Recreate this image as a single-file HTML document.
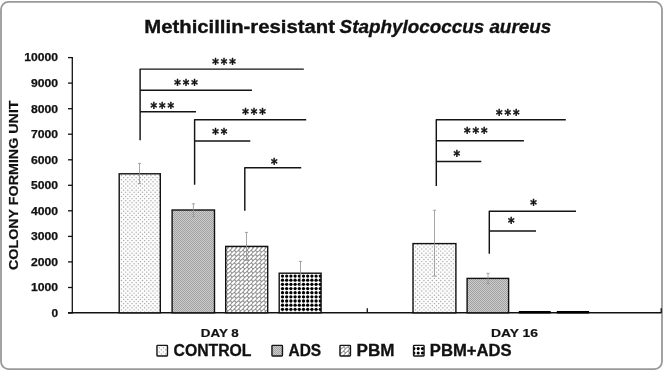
<!DOCTYPE html>
<html lang="en"><head><meta charset="utf-8"><title>Methicillin-resistant Staphylococcus aureus</title>
<style>
html,body{margin:0;padding:0;background:#fff;}
body{width:663px;height:370px;overflow:hidden;}
svg{display:block;filter:blur(0.35px);}
text{font-family:"Liberation Sans",sans-serif;font-weight:bold;fill:#111;}
.ast{font-family:"DejaVu Sans","Liberation Sans",sans-serif;font-weight:bold;fill:#111;}
</style></head><body>
<svg width="663" height="370" viewBox="0 0 663 370">

<defs>
<pattern id="p1" x="123" y="177" width="21" height="21" patternUnits="userSpaceOnUse">
<rect width="21" height="21" fill="#fcfcfc"/>
<g fill="#acacac"><circle cx="0.6" cy="0.6" r="0.72"/><circle cx="2.7" cy="2.7" r="0.72"/><circle cx="0.6" cy="4.8" r="0.72"/><circle cx="2.7" cy="6.9" r="0.72"/><circle cx="0.6" cy="9.0" r="0.72"/><circle cx="2.7" cy="11.1" r="0.72"/><circle cx="0.6" cy="13.2" r="0.72"/><circle cx="2.7" cy="15.3" r="0.72"/><circle cx="0.6" cy="17.4" r="0.72"/><circle cx="2.7" cy="19.5" r="0.72"/><circle cx="4.8" cy="0.6" r="0.72"/><circle cx="6.9" cy="2.7" r="0.72"/><circle cx="4.8" cy="4.8" r="0.72"/><circle cx="6.9" cy="6.9" r="0.72"/><circle cx="4.8" cy="9.0" r="0.72"/><circle cx="6.9" cy="11.1" r="0.72"/><circle cx="4.8" cy="13.2" r="0.72"/><circle cx="6.9" cy="15.3" r="0.72"/><circle cx="4.8" cy="17.4" r="0.72"/><circle cx="6.9" cy="19.5" r="0.72"/><circle cx="9.0" cy="0.6" r="0.72"/><circle cx="11.1" cy="2.7" r="0.72"/><circle cx="9.0" cy="4.8" r="0.72"/><circle cx="11.1" cy="6.9" r="0.72"/><circle cx="9.0" cy="9.0" r="0.72"/><circle cx="11.1" cy="11.1" r="0.72"/><circle cx="9.0" cy="13.2" r="0.72"/><circle cx="11.1" cy="15.3" r="0.72"/><circle cx="9.0" cy="17.4" r="0.72"/><circle cx="11.1" cy="19.5" r="0.72"/><circle cx="13.2" cy="0.6" r="0.72"/><circle cx="15.3" cy="2.7" r="0.72"/><circle cx="13.2" cy="4.8" r="0.72"/><circle cx="15.3" cy="6.9" r="0.72"/><circle cx="13.2" cy="9.0" r="0.72"/><circle cx="15.3" cy="11.1" r="0.72"/><circle cx="13.2" cy="13.2" r="0.72"/><circle cx="15.3" cy="15.3" r="0.72"/><circle cx="13.2" cy="17.4" r="0.72"/><circle cx="15.3" cy="19.5" r="0.72"/><circle cx="17.4" cy="0.6" r="0.72"/><circle cx="19.5" cy="2.7" r="0.72"/><circle cx="17.4" cy="4.8" r="0.72"/><circle cx="19.5" cy="6.9" r="0.72"/><circle cx="17.4" cy="9.0" r="0.72"/><circle cx="19.5" cy="11.1" r="0.72"/><circle cx="17.4" cy="13.2" r="0.72"/><circle cx="19.5" cy="15.3" r="0.72"/><circle cx="17.4" cy="17.4" r="0.72"/><circle cx="19.5" cy="19.5" r="0.72"/></g>
</pattern>
<pattern id="p2" width="2" height="2" patternUnits="userSpaceOnUse">
<rect width="2" height="2" fill="#cccccc"/>
<rect x="0" y="0" width="1" height="1" fill="#a2a2a2"/><rect x="1" y="1" width="1" height="1" fill="#a2a2a2"/>
</pattern>
<pattern id="p3" x="227" y="247" width="21" height="21" patternUnits="userSpaceOnUse">
<rect width="21" height="21" fill="#909090"/>
<path d="M1.05,3.15 l2.1,-2.1 M1.05,7.35 l2.1,-2.1 M1.05,11.55 l2.1,-2.1 M1.05,15.75 l2.1,-2.1 M1.05,19.95 l2.1,-2.1 M5.25,3.15 l2.1,-2.1 M5.25,7.35 l2.1,-2.1 M5.25,11.55 l2.1,-2.1 M5.25,15.75 l2.1,-2.1 M5.25,19.95 l2.1,-2.1 M9.45,3.15 l2.1,-2.1 M9.45,7.35 l2.1,-2.1 M9.45,11.55 l2.1,-2.1 M9.45,15.75 l2.1,-2.1 M9.45,19.95 l2.1,-2.1 M13.65,3.15 l2.1,-2.1 M13.65,7.35 l2.1,-2.1 M13.65,11.55 l2.1,-2.1 M13.65,15.75 l2.1,-2.1 M13.65,19.95 l2.1,-2.1 M17.85,3.15 l2.1,-2.1 M17.85,7.35 l2.1,-2.1 M17.85,11.55 l2.1,-2.1 M17.85,15.75 l2.1,-2.1 M17.85,19.95 l2.1,-2.1" stroke="#fff" stroke-width="2.1" stroke-linecap="round"/>
</pattern>
</defs>

<rect x="0" y="0" width="663" height="370" fill="#fff"/>
<rect x="1" y="1.9" width="661" height="367.2" rx="7.5" ry="7.5" fill="none" stroke="#999" stroke-width="1.8"/>

<text x="144.3" y="33" font-size="18.8" textLength="190.6" lengthAdjust="spacingAndGlyphs" stroke="#111" stroke-width="0.35">Methicillin-resistant</text>
<text x="339.6" y="33" font-size="18.8" font-style="italic" textLength="211.6" lengthAdjust="spacingAndGlyphs" stroke="#111" stroke-width="0.35">Staphylococcus aureus</text>
<text transform="translate(18.0,270) rotate(-90)" font-size="13.2" textLength="169.6" lengthAdjust="spacingAndGlyphs" stroke="#111" stroke-width="0.2">COLONY FORMING UNIT</text>
<text x="51.4" y="316.85" font-size="10.9" textLength="6.6" lengthAdjust="spacingAndGlyphs" stroke="#111" stroke-width="0.25">0</text>
<text x="30.9" y="291.31" font-size="10.9" textLength="27.1" lengthAdjust="spacingAndGlyphs" stroke="#111" stroke-width="0.25">1000</text>
<text x="30.9" y="265.77" font-size="10.9" textLength="27.1" lengthAdjust="spacingAndGlyphs" stroke="#111" stroke-width="0.25">2000</text>
<text x="30.9" y="240.23" font-size="10.9" textLength="27.1" lengthAdjust="spacingAndGlyphs" stroke="#111" stroke-width="0.25">3000</text>
<text x="30.9" y="214.69" font-size="10.9" textLength="27.1" lengthAdjust="spacingAndGlyphs" stroke="#111" stroke-width="0.25">4000</text>
<text x="30.9" y="189.15" font-size="10.9" textLength="27.1" lengthAdjust="spacingAndGlyphs" stroke="#111" stroke-width="0.25">5000</text>
<text x="30.9" y="163.61" font-size="10.9" textLength="27.1" lengthAdjust="spacingAndGlyphs" stroke="#111" stroke-width="0.25">6000</text>
<text x="30.9" y="138.07" font-size="10.9" textLength="27.1" lengthAdjust="spacingAndGlyphs" stroke="#111" stroke-width="0.25">7000</text>
<text x="30.9" y="112.53" font-size="10.9" textLength="27.1" lengthAdjust="spacingAndGlyphs" stroke="#111" stroke-width="0.25">8000</text>
<text x="30.9" y="86.99" font-size="10.9" textLength="27.1" lengthAdjust="spacingAndGlyphs" stroke="#111" stroke-width="0.25">9000</text>
<text x="24.3" y="61.45" font-size="10.9" textLength="33.7" lengthAdjust="spacingAndGlyphs" stroke="#111" stroke-width="0.25">10000</text>
<g stroke="#111" stroke-width="1.3" fill="none">
<path d="M72.3,57.0 V313.5"/>
<path d="M68,313.0 H72.3"/>
<path d="M68,287.5 H72.3"/>
<path d="M68,261.9 H72.3"/>
<path d="M68,236.4 H72.3"/>
<path d="M68,210.8 H72.3"/>
<path d="M68,185.3 H72.3"/>
<path d="M68,159.8 H72.3"/>
<path d="M68,134.2 H72.3"/>
<path d="M68,108.7 H72.3"/>
<path d="M68,83.1 H72.3"/>
<path d="M68,57.6 H72.3"/>
<path d="M68,312.8 H661.4" stroke-width="1.4"/>
<path d="M367.3,308.3 V313.0 M661.2,308.3 V313.0"/>
</g>
<clipPath id="c4"><rect x="279.2" y="273.2" width="41.9" height="39.6"/></clipPath>
<rect x="119.2" y="173.8" width="41.1" height="139.0" fill="url(#p1)" stroke="#111" stroke-width="1.4"/>
<rect x="172.1" y="210.0" width="42.4" height="102.8" fill="url(#p2)" stroke="#111" stroke-width="1.4"/>
<rect x="225.7" y="246.4" width="42.0" height="66.4" fill="url(#p3)" stroke="#111" stroke-width="1.4"/>
<rect x="279.2" y="273.2" width="41.9" height="39.6" fill="#fff"/>
<g clip-path="url(#c4)" fill="#000">
<circle cx="282.50" cy="276.05" r="1.65"/>
<circle cx="282.50" cy="280.21" r="1.65"/>
<circle cx="282.50" cy="284.37" r="1.65"/>
<circle cx="282.50" cy="288.53" r="1.65"/>
<circle cx="282.50" cy="292.69" r="1.65"/>
<circle cx="282.50" cy="296.85" r="1.65"/>
<circle cx="282.50" cy="301.01" r="1.65"/>
<circle cx="282.50" cy="305.17" r="1.65"/>
<circle cx="282.50" cy="309.33" r="1.65"/>
<circle cx="282.50" cy="313.49" r="1.65"/>
<circle cx="286.70" cy="276.05" r="1.65"/>
<circle cx="286.70" cy="280.21" r="1.65"/>
<circle cx="286.70" cy="284.37" r="1.65"/>
<circle cx="286.70" cy="288.53" r="1.65"/>
<circle cx="286.70" cy="292.69" r="1.65"/>
<circle cx="286.70" cy="296.85" r="1.65"/>
<circle cx="286.70" cy="301.01" r="1.65"/>
<circle cx="286.70" cy="305.17" r="1.65"/>
<circle cx="286.70" cy="309.33" r="1.65"/>
<circle cx="286.70" cy="313.49" r="1.65"/>
<circle cx="290.90" cy="276.05" r="1.65"/>
<circle cx="290.90" cy="280.21" r="1.65"/>
<circle cx="290.90" cy="284.37" r="1.65"/>
<circle cx="290.90" cy="288.53" r="1.65"/>
<circle cx="290.90" cy="292.69" r="1.65"/>
<circle cx="290.90" cy="296.85" r="1.65"/>
<circle cx="290.90" cy="301.01" r="1.65"/>
<circle cx="290.90" cy="305.17" r="1.65"/>
<circle cx="290.90" cy="309.33" r="1.65"/>
<circle cx="290.90" cy="313.49" r="1.65"/>
<circle cx="295.10" cy="276.05" r="1.65"/>
<circle cx="295.10" cy="280.21" r="1.65"/>
<circle cx="295.10" cy="284.37" r="1.65"/>
<circle cx="295.10" cy="288.53" r="1.65"/>
<circle cx="295.10" cy="292.69" r="1.65"/>
<circle cx="295.10" cy="296.85" r="1.65"/>
<circle cx="295.10" cy="301.01" r="1.65"/>
<circle cx="295.10" cy="305.17" r="1.65"/>
<circle cx="295.10" cy="309.33" r="1.65"/>
<circle cx="295.10" cy="313.49" r="1.65"/>
<circle cx="299.30" cy="276.05" r="1.65"/>
<circle cx="299.30" cy="280.21" r="1.65"/>
<circle cx="299.30" cy="284.37" r="1.65"/>
<circle cx="299.30" cy="288.53" r="1.65"/>
<circle cx="299.30" cy="292.69" r="1.65"/>
<circle cx="299.30" cy="296.85" r="1.65"/>
<circle cx="299.30" cy="301.01" r="1.65"/>
<circle cx="299.30" cy="305.17" r="1.65"/>
<circle cx="299.30" cy="309.33" r="1.65"/>
<circle cx="299.30" cy="313.49" r="1.65"/>
<circle cx="303.50" cy="276.05" r="1.65"/>
<circle cx="303.50" cy="280.21" r="1.65"/>
<circle cx="303.50" cy="284.37" r="1.65"/>
<circle cx="303.50" cy="288.53" r="1.65"/>
<circle cx="303.50" cy="292.69" r="1.65"/>
<circle cx="303.50" cy="296.85" r="1.65"/>
<circle cx="303.50" cy="301.01" r="1.65"/>
<circle cx="303.50" cy="305.17" r="1.65"/>
<circle cx="303.50" cy="309.33" r="1.65"/>
<circle cx="303.50" cy="313.49" r="1.65"/>
<circle cx="307.70" cy="276.05" r="1.65"/>
<circle cx="307.70" cy="280.21" r="1.65"/>
<circle cx="307.70" cy="284.37" r="1.65"/>
<circle cx="307.70" cy="288.53" r="1.65"/>
<circle cx="307.70" cy="292.69" r="1.65"/>
<circle cx="307.70" cy="296.85" r="1.65"/>
<circle cx="307.70" cy="301.01" r="1.65"/>
<circle cx="307.70" cy="305.17" r="1.65"/>
<circle cx="307.70" cy="309.33" r="1.65"/>
<circle cx="307.70" cy="313.49" r="1.65"/>
<circle cx="311.90" cy="276.05" r="1.65"/>
<circle cx="311.90" cy="280.21" r="1.65"/>
<circle cx="311.90" cy="284.37" r="1.65"/>
<circle cx="311.90" cy="288.53" r="1.65"/>
<circle cx="311.90" cy="292.69" r="1.65"/>
<circle cx="311.90" cy="296.85" r="1.65"/>
<circle cx="311.90" cy="301.01" r="1.65"/>
<circle cx="311.90" cy="305.17" r="1.65"/>
<circle cx="311.90" cy="309.33" r="1.65"/>
<circle cx="311.90" cy="313.49" r="1.65"/>
<circle cx="316.10" cy="276.05" r="1.65"/>
<circle cx="316.10" cy="280.21" r="1.65"/>
<circle cx="316.10" cy="284.37" r="1.65"/>
<circle cx="316.10" cy="288.53" r="1.65"/>
<circle cx="316.10" cy="292.69" r="1.65"/>
<circle cx="316.10" cy="296.85" r="1.65"/>
<circle cx="316.10" cy="301.01" r="1.65"/>
<circle cx="316.10" cy="305.17" r="1.65"/>
<circle cx="316.10" cy="309.33" r="1.65"/>
<circle cx="316.10" cy="313.49" r="1.65"/>
<circle cx="320.30" cy="276.05" r="1.65"/>
<circle cx="320.30" cy="280.21" r="1.65"/>
<circle cx="320.30" cy="284.37" r="1.65"/>
<circle cx="320.30" cy="288.53" r="1.65"/>
<circle cx="320.30" cy="292.69" r="1.65"/>
<circle cx="320.30" cy="296.85" r="1.65"/>
<circle cx="320.30" cy="301.01" r="1.65"/>
<circle cx="320.30" cy="305.17" r="1.65"/>
<circle cx="320.30" cy="309.33" r="1.65"/>
<circle cx="320.30" cy="313.49" r="1.65"/>
</g>
<rect x="279.2" y="273.2" width="41.9" height="39.6" fill="none" stroke="#111" stroke-width="1.4"/>
<rect x="413.0" y="243.6" width="42.9" height="69.2" fill="url(#p1)" stroke="#111" stroke-width="1.4"/>
<rect x="467.1" y="278.4" width="41.5" height="34.4" fill="url(#p2)" stroke="#111" stroke-width="1.4"/>
<g stroke="#909090" stroke-width="0.8" fill="none">
<path d="M139.5,163.4 V183.6 M137.9,163.4 H141.1 M137.9,183.6 H141.1"/>
<path d="M193.4,203.8 V216.5 M191.8,203.8 H195.0 M191.8,216.5 H195.0"/>
<path d="M246.5,232.4 V260.4 M244.9,232.4 H248.1 M244.9,260.4 H248.1"/>
<path d="M300.5,261.4 V285.0 M298.9,261.4 H302.1 M298.9,285.0 H302.1"/>
<path d="M434.5,210.3 V276.1 M432.9,210.3 H436.1 M432.9,276.1 H436.1"/>
<path d="M488.0,273.3 V283.6 M486.4,273.3 H489.6 M486.4,283.6 H489.6"/>
</g>
<rect x="518.8" y="311" width="31.9" height="2.5" fill="#000"/>
<rect x="556.8" y="311" width="32.3" height="2.5" fill="#000"/>
<g stroke="#141414" stroke-width="1.45" fill="none" stroke-linecap="butt" stroke-linejoin="round">
<path d="M140.1,140.2 V69.1 H303.8 M140.1,90.3 H252 M140.1,111.8 H196"/>
<path d="M194.6,184.8 V119.8 H306.2 M194.6,140.9 H250.3"/>
<path d="M244.8,210.8 V167.8 H301.2"/>
<path d="M436.3,185.9 V119.8 H565.8 M436.3,140.8 H523.9 M436.3,161.4 H481.3"/>
<path d="M489.3,253.8 V211.3 H576 M489.3,231.05 H536"/>
</g>
<text class="ast" transform="translate(215.45,61.50) scale(1,1.12)" x="0" y="6.2" font-size="12.5" text-anchor="middle" stroke="#111" stroke-width="0.45">*</text>
<text class="ast" transform="translate(223.95,61.50) scale(1,1.12)" x="0" y="6.2" font-size="12.5" text-anchor="middle" stroke="#111" stroke-width="0.45">*</text>
<text class="ast" transform="translate(232.45,61.50) scale(1,1.12)" x="0" y="6.2" font-size="12.5" text-anchor="middle" stroke="#111" stroke-width="0.45">*</text>
<text class="ast" transform="translate(177.45,82.30) scale(1,1.12)" x="0" y="6.2" font-size="12.5" text-anchor="middle" stroke="#111" stroke-width="0.45">*</text>
<text class="ast" transform="translate(185.95,82.30) scale(1,1.12)" x="0" y="6.2" font-size="12.5" text-anchor="middle" stroke="#111" stroke-width="0.45">*</text>
<text class="ast" transform="translate(194.45,82.30) scale(1,1.12)" x="0" y="6.2" font-size="12.5" text-anchor="middle" stroke="#111" stroke-width="0.45">*</text>
<text class="ast" transform="translate(153.85,105.30) scale(1,1.12)" x="0" y="6.2" font-size="12.5" text-anchor="middle" stroke="#111" stroke-width="0.45">*</text>
<text class="ast" transform="translate(162.35,105.30) scale(1,1.12)" x="0" y="6.2" font-size="12.5" text-anchor="middle" stroke="#111" stroke-width="0.45">*</text>
<text class="ast" transform="translate(170.85,105.30) scale(1,1.12)" x="0" y="6.2" font-size="12.5" text-anchor="middle" stroke="#111" stroke-width="0.45">*</text>
<text class="ast" transform="translate(245.45,111.00) scale(1,1.12)" x="0" y="6.2" font-size="12.5" text-anchor="middle" stroke="#111" stroke-width="0.45">*</text>
<text class="ast" transform="translate(253.95,111.00) scale(1,1.12)" x="0" y="6.2" font-size="12.5" text-anchor="middle" stroke="#111" stroke-width="0.45">*</text>
<text class="ast" transform="translate(262.45,111.00) scale(1,1.12)" x="0" y="6.2" font-size="12.5" text-anchor="middle" stroke="#111" stroke-width="0.45">*</text>
<text class="ast" transform="translate(215.45,131.00) scale(1,1.12)" x="0" y="6.2" font-size="12.5" text-anchor="middle" stroke="#111" stroke-width="0.45">*</text>
<text class="ast" transform="translate(223.95,131.00) scale(1,1.12)" x="0" y="6.2" font-size="12.5" text-anchor="middle" stroke="#111" stroke-width="0.45">*</text>
<text class="ast" transform="translate(274.15,160.90) scale(1,1.12)" x="0" y="6.2" font-size="12.5" text-anchor="middle" stroke="#111" stroke-width="0.45">*</text>
<text class="ast" transform="translate(499.15,112.40) scale(1,1.12)" x="0" y="6.2" font-size="12.5" text-anchor="middle" stroke="#111" stroke-width="0.45">*</text>
<text class="ast" transform="translate(507.65,112.40) scale(1,1.12)" x="0" y="6.2" font-size="12.5" text-anchor="middle" stroke="#111" stroke-width="0.45">*</text>
<text class="ast" transform="translate(516.15,112.40) scale(1,1.12)" x="0" y="6.2" font-size="12.5" text-anchor="middle" stroke="#111" stroke-width="0.45">*</text>
<text class="ast" transform="translate(467.35,130.50) scale(1,1.12)" x="0" y="6.2" font-size="12.5" text-anchor="middle" stroke="#111" stroke-width="0.45">*</text>
<text class="ast" transform="translate(475.85,130.50) scale(1,1.12)" x="0" y="6.2" font-size="12.5" text-anchor="middle" stroke="#111" stroke-width="0.45">*</text>
<text class="ast" transform="translate(484.35,130.50) scale(1,1.12)" x="0" y="6.2" font-size="12.5" text-anchor="middle" stroke="#111" stroke-width="0.45">*</text>
<text class="ast" transform="translate(456.65,152.90) scale(1,1.12)" x="0" y="6.2" font-size="12.5" text-anchor="middle" stroke="#111" stroke-width="0.45">*</text>
<text class="ast" transform="translate(533.45,201.90) scale(1,1.12)" x="0" y="6.2" font-size="12.5" text-anchor="middle" stroke="#111" stroke-width="0.45">*</text>
<text class="ast" transform="translate(511.15,219.80) scale(1,1.12)" x="0" y="6.2" font-size="12.5" text-anchor="middle" stroke="#111" stroke-width="0.45">*</text>
<text x="200.8" y="337.3" font-size="11.8" textLength="38.0" lengthAdjust="spacingAndGlyphs" stroke="#111" stroke-width="0.2">DAY 8</text>
<text x="491.0" y="337.3" font-size="11.8" textLength="47.0" lengthAdjust="spacingAndGlyphs" stroke="#111" stroke-width="0.2">DAY 16</text>
<rect x="156.95" y="345.35" width="10.5" height="10.6" rx="0.6" fill="url(#p1)" stroke="#161616" stroke-width="1.4"/>
<text x="173.5" y="356.2" font-size="15.8" textLength="78.0" lengthAdjust="spacingAndGlyphs" stroke="#111" stroke-width="0.3">CONTROL</text>
<rect x="271.95" y="345.35" width="10.5" height="10.6" rx="0.6" fill="url(#p2)" stroke="#161616" stroke-width="1.4"/>
<text x="288.5" y="356.2" font-size="15.8" textLength="32.7" lengthAdjust="spacingAndGlyphs" stroke="#111" stroke-width="0.3">ADS</text>
<rect x="339.95" y="345.35" width="10.5" height="10.6" rx="0.6" fill="url(#p3)" stroke="#161616" stroke-width="1.4"/>
<text x="356.6" y="356.2" font-size="15.8" textLength="38.0" lengthAdjust="spacingAndGlyphs" stroke="#111" stroke-width="0.3">PBM</text>
<clipPath id="c4l"><rect x="413.55" y="345.35" width="10.5" height="10.6"/></clipPath>
<rect x="413.55" y="345.35" width="10.5" height="10.6" fill="#fff"/>
<g clip-path="url(#c4l)" fill="#000">
<circle cx="413.9" cy="344.4" r="1.55"/>
<circle cx="413.9" cy="348.6" r="1.55"/>
<circle cx="413.9" cy="353.0" r="1.55"/>
<circle cx="413.9" cy="357.3" r="1.55"/>
<circle cx="418.2" cy="344.4" r="1.55"/>
<circle cx="418.2" cy="348.6" r="1.55"/>
<circle cx="418.2" cy="353.0" r="1.55"/>
<circle cx="418.2" cy="357.3" r="1.55"/>
<circle cx="422.5" cy="344.4" r="1.55"/>
<circle cx="422.5" cy="348.6" r="1.55"/>
<circle cx="422.5" cy="353.0" r="1.55"/>
<circle cx="422.5" cy="357.3" r="1.55"/>
</g>
<rect x="413.55" y="345.35" width="10.5" height="10.6" rx="0.6" fill="none" stroke="#161616" stroke-width="1.4"/>
<text x="429.8" y="356.2" font-size="15.8" textLength="81.8" lengthAdjust="spacingAndGlyphs" stroke="#111" stroke-width="0.3">PBM+ADS</text>
</svg></body></html>
